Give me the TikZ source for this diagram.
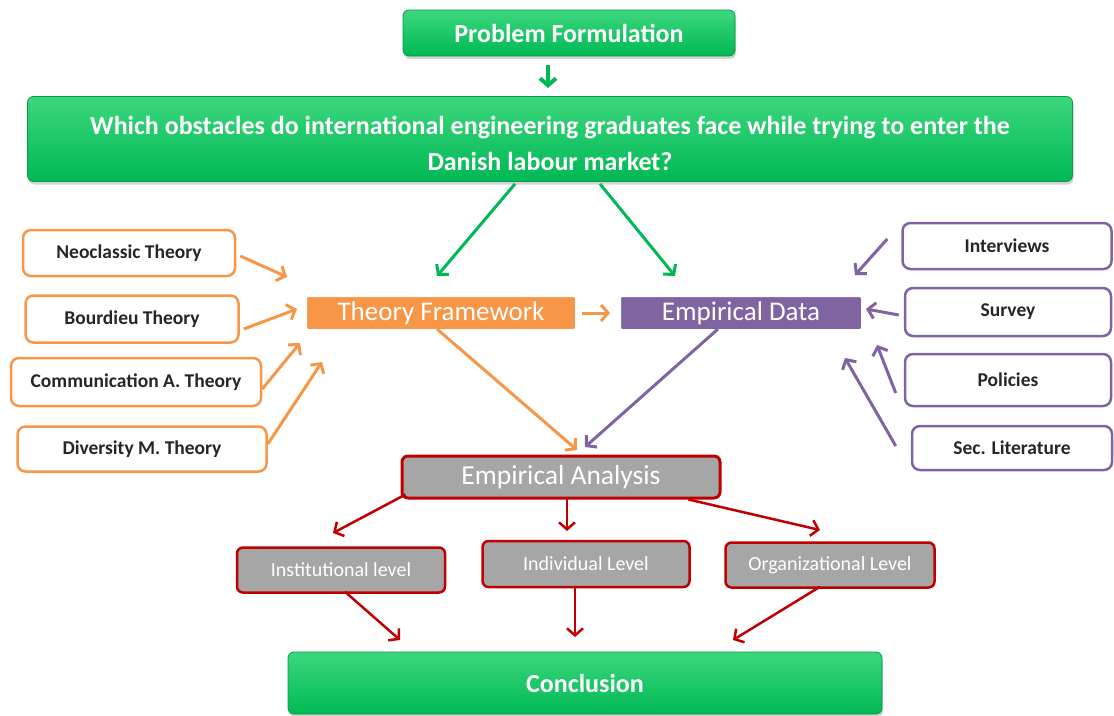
\documentclass[tikz,border=0pt]{standalone}
\usepackage{fontspec}
\setmainfont{Carlito}
\usetikzlibrary{arrows.meta,shadows}
\definecolor{grn}{RGB}{0,184,84}
\definecolor{grnlt}{RGB}{60,215,125}
\definecolor{org}{RGB}{247,150,70}
\definecolor{pur}{RGB}{128,100,162}
\definecolor{dred}{RGB}{192,0,0}
\definecolor{gry}{RGB}{166,166,166}
\begin{document}
\begin{tikzpicture}[x=1pt,y=-1pt,
  gbox/.style={rounded corners=6pt, top color=grnlt, bottom color=grn, draw=grn!85!black, line width=0.8pt,
    text=white, font=\bfseries\fontsize{26}{36}\selectfont, align=center, inner sep=0pt,
    drop shadow={opacity=0.35,shadow xshift=1pt,shadow yshift=-3pt}},
  mainbox/.style={rounded corners=3pt, draw=white, line width=4pt, text=white, inner sep=0pt,
    font=\fontsize{27}{30}\selectfont, drop shadow={opacity=0.25,shadow xshift=1pt,shadow yshift=-2pt}},
  obox/.style={draw=org, line width=2.5pt, fill=white, rounded corners=8pt, inner sep=0pt,
    font=\bfseries\fontsize{19.5}{22}\selectfont, text=black!85},
  pbox/.style={obox, draw=pur},
  gybox/.style={fill=gry, draw=dred, rounded corners=6pt, inner sep=0pt, text=white},
  lvl/.style={gybox, line width=2.5pt, font=\fontsize{20}{22}\selectfont},
  arr/.style={line width=3pt, -{Straight Barb[length=7pt,width=16pt]}},
  garr/.style={arr, draw=grn},
  oarr/.style={arr, draw=org},
  parr/.style={arr, draw=pur},
  rarr/.style={arr, draw=dred, line width=2.5pt}
]
\useasboundingbox (0,0) rectangle (1114,715);

% top
\node[gbox, minimum width=332, minimum height=46] (pf) at (569,33) {Problem Formulation};
\node[gbox, minimum width=1045, minimum height=85] (q) at (550,139) {};
\node[text=white, font=\bfseries\fontsize{26}{36}\selectfont, align=center, inner sep=0pt] (qt) at (550,143)
  {Which obstacles do international engineering graduates face while trying to enter the\\Danish labour market?};

% main boxes
\node[mainbox, fill=org, minimum width=272, minimum height=36] (tf) at (441,313) {Theory Framework};
\node[mainbox, fill=pur, minimum width=244, minimum height=36] (ed) at (741,313) {Empirical Data};

% left boxes
\node[obox, minimum width=212, minimum height=46] (neo) at (129,253) {Neoclassic Theory};
\node[obox, minimum width=213, minimum height=47] (bou) at (132,319) {Bourdieu Theory};
\node[obox, minimum width=250, minimum height=48] (com) at (136,382) {Communication A. Theory};
\node[obox, minimum width=249, minimum height=45] (div) at (142,449) {Diversity M. Theory};

% right boxes
\node[pbox, minimum width=209, minimum height=46] (int) at (1007,246) {Interviews};
\node[pbox, minimum width=206, minimum height=48] (sur) at (1008,312) {Survey};
\node[pbox, minimum width=206, minimum height=52] (pol) at (1008,380) {Policies};
\node[pbox, minimum width=200, minimum height=44] (sec) at (1012,448) {Sec. Literature};

% analysis
\node[gybox, line width=3pt, minimum width=318, minimum height=42, font=\fontsize{27.5}{30}\selectfont] (ea) at (561,477) {Empirical Analysis};
\node[lvl, minimum width=208, minimum height=45] (inst) at (341,570) {Institutional level};
\node[lvl, minimum width=207, minimum height=46] (ind) at (586,564) {Individual Level};
\node[lvl, minimum width=209, minimum height=45] (orgl) at (830,565) {Organizational  Level};

\node[gbox, minimum width=594, minimum height=62, font=\bfseries\fontsize{26}{30}\selectfont] (conc) at (585,683) {Conclusion};

% arrow end coordinates
\coordinate (pfq) at (548,88);
\coordinate (qtf) at (437,276);
\coordinate (qed) at (675,276);
\coordinate (e1) at (287,277);
\coordinate (e2) at (297,309);
\coordinate (e3) at (300,343);
\coordinate (e4) at (322,362);
\coordinate (f1) at (855,275);
\coordinate (f2) at (866,309);
\coordinate (f3) at (877,345);
\coordinate (f4) at (845,358);
\coordinate (tfed) at (610,313);
\coordinate (tfea) at (577,450);
\coordinate (edea) at (585,447);
\coordinate (l1) at (333,533);
\coordinate (l2) at (567,531);
\coordinate (l3) at (820,530);
\coordinate (c1) at (400,640);
\coordinate (c2) at (575,637);
\coordinate (c3) at (733,640);

% green arrows
\draw[garr, line width=4pt] ([xshift=-21pt,yshift=-9pt]pf.south) -- (pfq);
\draw[garr] ([xshift=-35pt,yshift=-2pt]q.south) -- (qtf);
\draw[garr] ([xshift=50pt,yshift=-2pt]q.south) -- (qed);

% orange arrows
\draw[oarr] ([xshift=4pt,yshift=-3pt]neo.east) -- (e1);
\draw[oarr] ([xshift=4pt,yshift=-10pt]bou.east) -- (e2);
\draw[oarr] ([yshift=-7pt]com.east) -- (e3);
\draw[oarr] ([yshift=5pt]div.east) -- (e4);
\draw[oarr] ([xshift=3pt]tf.east) -- (tfed);
\draw[oarr] ([xshift=-4pt,yshift=4pt]tf.south) -- (tfea);

% purple arrows
\draw[parr] ([xshift=-14pt,yshift=7pt]int.west) -- (f1);
\draw[parr] ([xshift=-5pt,yshift=-3pt]sur.west) -- (f2);
\draw[parr] ([xshift=-8pt,yshift=-13pt]pol.west) -- (f3);
\draw[parr] ([xshift=-15pt,yshift=2pt]sec.west) -- (f4);
\draw[parr] ([xshift=-23pt,yshift=4pt]ed.south) -- (edea);

% red arrows
\draw[rarr] (ea.south west) ++(5pt,5pt) -- (l1);
\draw[rarr] ([xshift=6pt,yshift=3pt]ea.south) -- (l2);
\draw[rarr] ([xshift=-33pt,yshift=0pt]ea.south east) -- (l3);
\draw[rarr] ([xshift=4pt,yshift=2pt]inst.south) -- (c1);
\draw[rarr] ([xshift=-11pt,yshift=2pt]ind.south) -- (c2);
\draw[rarr] ([xshift=-10pt,yshift=2pt]orgl.south) -- (c3);
\end{tikzpicture}
\end{document}
